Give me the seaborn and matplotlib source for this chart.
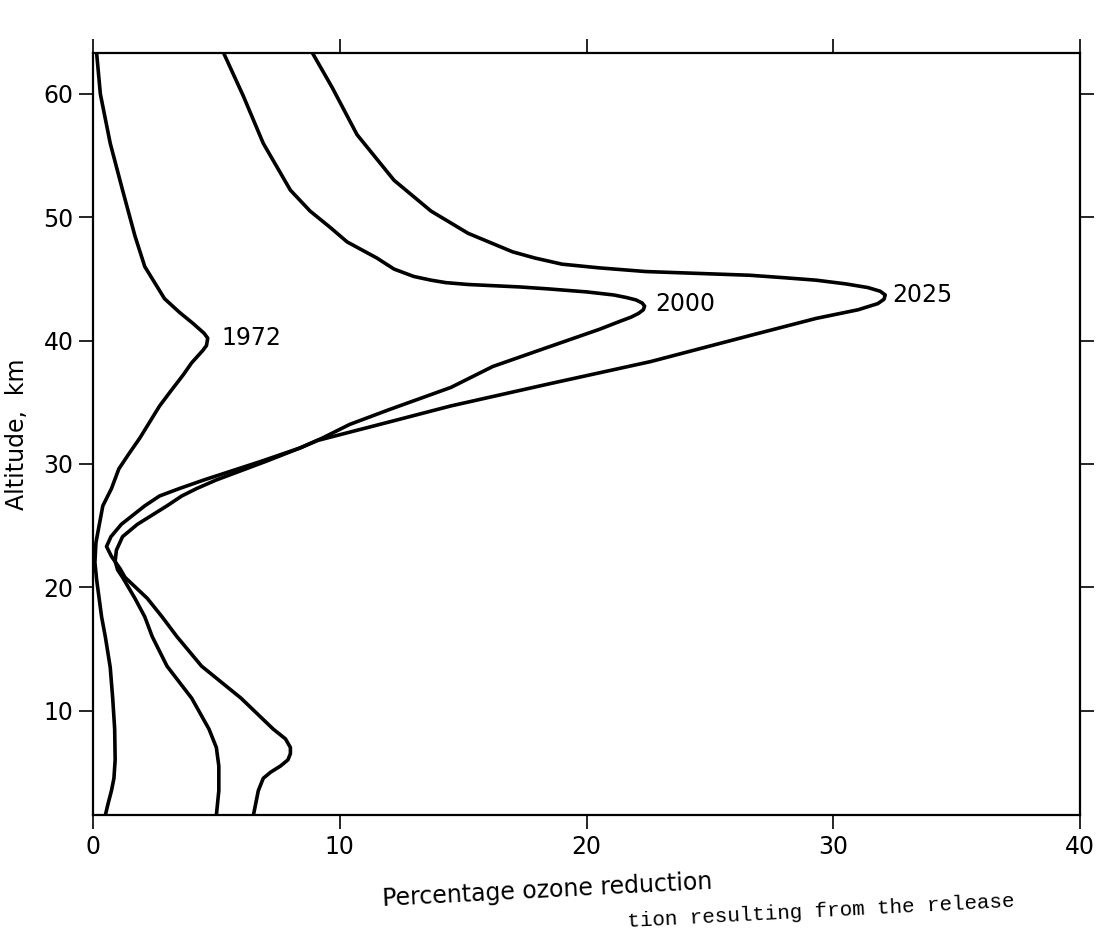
import matplotlib
matplotlib.use("Agg")
import matplotlib.pyplot as plt
import seaborn as sns
import pandas as pd

# ---- data (altitude km, percentage ozone reduction) ----
alt_1972 = [63.3, 60, 56, 52.2, 48.5, 46, 44.7, 43.4, 42.3, 41.4, 40.6, 40.2, 39.6, 39.2, 38.2,
            37.2, 35.9, 34.7, 33.4, 32.1, 30.8, 29.6, 28, 26.6, 25, 23.6, 22, 20.6, 19.1, 17.6,
            16, 13.5, 11, 8.5, 6, 4.5, 3.5, 2.5, 1.5]
red_1972 = [0.15, 0.3, 0.7, 1.2, 1.7, 2.1, 2.5, 2.9, 3.5, 4.05, 4.5, 4.65, 4.6, 4.45, 4.0,
            3.65, 3.15, 2.7, 2.3, 1.9, 1.45, 1.05, 0.75, 0.4, 0.25, 0.12, 0.08, 0.15, 0.25, 0.35,
            0.5, 0.7, 0.8, 0.88, 0.9, 0.85, 0.75, 0.62, 0.5]

alt_2000 = [63.3, 59.8, 56, 52.2, 50.5, 49.2, 48, 46.7, 45.8, 45.2, 44.9, 44.7, 44.55, 44.35,
            44.2, 43.95, 43.7, 43.5, 43.3, 43.05, 42.8, 42.5, 42.2, 41.9, 41.6, 40.9, 39.3, 37.9,
            36.2, 34.4, 33.2, 32.1, 31.3, 30.2, 28.7, 28.0, 27.4, 26.6, 25.1, 24.1, 23.0, 22.1,
            21.4, 20.8, 19.1, 17.6, 16, 13.6, 11, 8.5, 7, 5.5, 3.5, 1.5]
red_2000 = [5.3, 6.1, 6.9, 8.0, 8.8, 9.6, 10.3, 11.5, 12.2, 13.0, 13.7, 14.3, 15.2, 17.3,
            18.4, 20.0, 21.1, 21.6, 22.0, 22.25, 22.35, 22.3, 22.1, 21.8, 21.4, 20.5, 18.2, 16.2,
            14.5, 12.0, 10.4, 9.3, 8.4, 7.0, 5.0, 4.2, 3.6, 3.0, 1.8, 1.2, 0.95, 0.9,
            1.0, 1.2, 1.7, 2.1, 2.4, 3.0, 4.0, 4.7, 5.0, 5.1, 5.1, 5.0]

alt_2025 = [63.3, 60.5, 56.7, 53, 50.5, 48.7, 47.2, 46.7, 46.2, 45.9, 45.6, 45.45, 45.3, 45.1,
            44.9, 44.6, 44.3, 44.0, 43.7, 43.35, 43.0, 42.5, 41.8, 40.4, 38.3, 36.5, 34.7, 33.4,
            31.9, 31.3, 30.2, 28.7, 28.0, 27.4, 26.6, 25.1, 24.1, 23.3, 22.5, 21.5, 20.8, 19.1,
            17.6, 16, 13.6, 11, 8.5, 7.7, 7, 6.5, 6, 5.5, 5.0, 4.5, 3.5, 2, 1.5]
red_2025 = [8.9, 9.7, 10.7, 12.2, 13.7, 15.2, 17.0, 17.9, 19.0, 20.5, 22.4, 24.5, 26.6, 28.0,
            29.3, 30.5, 31.4, 31.9, 32.1, 32.05, 31.8, 31.0, 29.3, 26.6, 22.6, 18.5, 14.5, 12.0,
            9.1, 8.4, 6.8, 4.5, 3.5, 2.7, 2.1, 1.15, 0.73, 0.55, 0.75, 1.1, 1.3, 2.2,
            2.8, 3.4, 4.4, 6.0, 7.3, 7.8, 8.0, 8.0, 7.9, 7.6, 7.2, 6.9, 6.7, 6.55, 6.5]

years = ["1972", "2000", "2025"]
# label anchor (reduction, altitude) for each curve name
label_x = [5.2, 22.8, 32.4]
label_y = [40.2, 43.0, 43.7]

x_ticks = [0, 10, 20, 30, 40]
y_ticks = [10, 20, 30, 40, 50, 60]

df = pd.concat([
    pd.DataFrame({"year": "1972", "altitude": alt_1972, "reduction": red_1972}),
    pd.DataFrame({"year": "2000", "altitude": alt_2000, "reduction": red_2000}),
    pd.DataFrame({"year": "2025", "altitude": alt_2025, "reduction": red_2025}),
], ignore_index=True)

sns.set_style("ticks")
plt.rcParams["font.family"] = ["DejaVu Sans"]
plt.rcParams["text.color"] = "black"
plt.rcParams["axes.labelcolor"] = "black"
plt.rcParams["xtick.color"] = "black"
plt.rcParams["ytick.color"] = "black"

fig = plt.figure(figsize=(11, 9.35), dpi=100)
ax = fig.add_axes([0.0845, 0.128, 0.8975, 0.815])

sns.lineplot(data=df, x="reduction", y="altitude", hue="year", orient="y",
             estimator=None, palette=["black"] * 3, linewidth=2.6, legend=False, ax=ax)
for ln in ax.lines:
    ln.set_solid_joinstyle("round")
    ln.set_solid_capstyle("round")

for name, lx, ly in zip(years, label_x, label_y):
    ax.text(lx, ly, name, fontsize=17, va="center", ha="left", color="black")

ax.set_xlim(0, 40)
ax.set_ylim(1.5, 63.3)
ax.set_xticks(x_ticks)
ax.set_yticks(y_ticks)
ax.tick_params(axis="both", direction="out", length=10, width=1.2, labelsize=17,
               top=True, right=True, labeltop=False, labelright=False, pad=4)
for s in ax.spines.values():
    s.set_linewidth(1.6)
    s.set_color("black")

ax.set_xlabel("Percentage ozone reduction", fontsize=17, rotation=3)
ax.xaxis.set_label_coords(0.46, -0.072)
ax.set_ylabel("Altitude,  km", fontsize=17, labelpad=10)

fig.text(0.57, 0.004, "tion resulting from the release", family="Liberation Mono",
         fontsize=15, rotation=3, ha="left", va="bottom")

fig.savefig("out.png", dpi=100)
